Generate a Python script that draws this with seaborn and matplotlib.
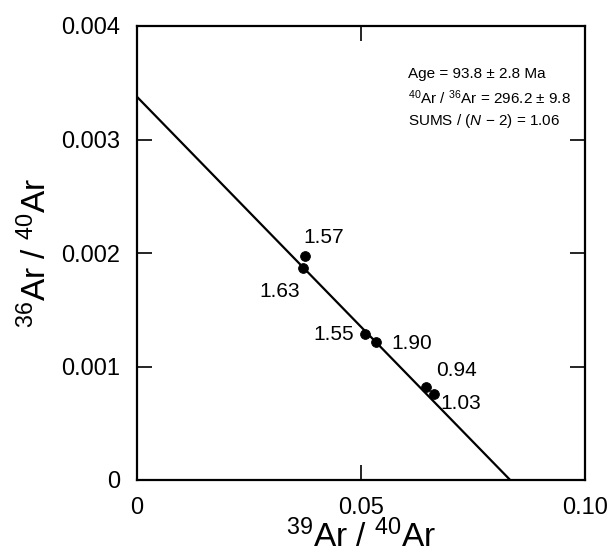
import numpy as np
import pandas as pd
import matplotlib
matplotlib.use('Agg')
import matplotlib.pyplot as plt
import seaborn as sns

# -----------------------------
# Data read off the isochron
# -----------------------------
x_39_40 = [0.0375, 0.0371, 0.0509, 0.0534, 0.0644, 0.0664]
y_36_40 = [0.001976, 0.00187, 0.001284, 0.001213, 0.000822, 0.000758]
point_labels = ['1.57', '1.63', '1.55', '1.90', '0.94', '1.03']
label_offsets = [(-1, 13), (-2, -17), (-8, 0), (11, -1), (8, 12), (4, -7)]
label_align = ['left', 'right', 'right', 'left', 'left', 'left']

# isochron line: y-intercept (1/296.2) and x-intercept
line_x = [0.0, 0.0833]
line_y = [0.003376, 0.0]

x_ticks = [0, 0.05, 0.10]
x_ticklabels = ['0', '0.05', '0.10']
y_ticks = [0, 0.001, 0.002, 0.003, 0.004]
y_ticklabels = ['0', '0.001', '0.002', '0.003', '0.004']

info_lines = ['Age = 93.8 \u00b1 2.8 Ma',
              '$^{40}$Ar / $^{36}$Ar = 296.2 \u00b1 9.8',
              'SUMS / ($N$ \u2212 2) = 1.06']

# -----------------------------
# Plot
# -----------------------------
sns.set_theme(style='ticks')
plt.rcParams['font.family'] = ['Liberation Sans', 'DejaVu Sans']
plt.rcParams['mathtext.fontset'] = 'custom'
plt.rcParams['mathtext.rm'] = 'Liberation Sans'
plt.rcParams['mathtext.it'] = 'Liberation Sans:italic'

fig = plt.figure(figsize=(6.11, 5.55), dpi=100)
ax = fig.add_axes([137 / 611, 1 - 480 / 555, 448 / 611, 454 / 555])

df = pd.DataFrame({'x': x_39_40, 'y': y_36_40, 'label': point_labels})
line_df = pd.DataFrame({'x': line_x, 'y': line_y})

sns.lineplot(data=line_df, x='x', y='y', color='black', linewidth=1.6, ax=ax)
sns.scatterplot(data=df, x='x', y='y', color='black', s=50, edgecolor='black',
                zorder=3, ax=ax)

for (xi, yi, lab, off, ha) in zip(x_39_40, y_36_40, point_labels, label_offsets, label_align):
    ax.annotate(lab, (xi, yi), xytext=off, textcoords='offset points',
                ha=ha, va='center', fontsize=15, color='black')

for i, txt in enumerate(info_lines):
    ax.text(0.605, 0.895 - i * 0.052, txt, transform=ax.transAxes,
            fontsize=11, ha='left', va='center', color='black')

ax.set_xlim(0, 0.10)
ax.set_ylim(0, 0.004)
ax.set_xticks(x_ticks)
ax.set_xticklabels(x_ticklabels, fontsize=17)
ax.set_yticks(y_ticks)
ax.set_yticklabels(y_ticklabels, fontsize=17)
ax.tick_params(direction='in', length=11, width=1.2, top=True, right=True,
               pad=12, colors='black')
for side in ['left', 'right', 'top', 'bottom']:
    ax.spines[side].set_linewidth(1.6)
    ax.spines[side].set_color('black')

ax.set_xlabel('$^{39}$Ar / $^{40}$Ar', fontsize=24, labelpad=1, color='black')
ax.set_ylabel('$^{36}$Ar / $^{40}$Ar', fontsize=24, labelpad=6, color='black')

fig.savefig('out.png', dpi=100)
